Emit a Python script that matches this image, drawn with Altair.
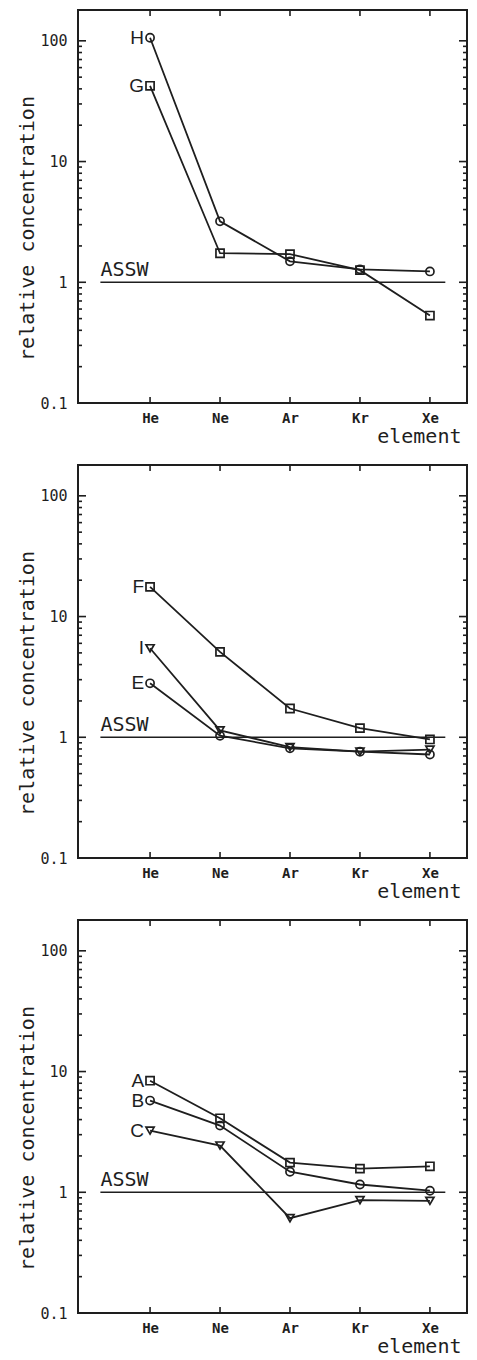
import json
import altair as alt
import pandas as pd

# ---------------- data ----------------
elements = ["He", "Ne", "Ar", "Kr", "Xe"]

# panel 1
series_H = [106, 3.2, 1.49, 1.28, 1.23]
series_G = [42.4, 1.74, 1.71, 1.26, 0.53]
# panel 2
series_F = [17.6, 5.1, 1.73, 1.19, 0.96]
series_I = [5.46, 1.14, 0.83, 0.76, 0.79]
series_E = [2.8, 1.03, 0.81, 0.76, 0.72]
# panel 3
series_A = [8.4, 4.1, 1.76, 1.57, 1.64]
series_B = [5.75, 3.57, 1.48, 1.16, 1.03]
series_C = [3.24, 2.44, 0.61, 0.86, 0.85]

assw_value = 1.0
assw_label = "ASSW"

y_major_ticks = [0.1, 1, 10, 100]
y_minor_ticks = [m * 10.0 ** e for e in (-1, 0, 1) for m in range(2, 10)]

# ---------------- styles ----------------
INK = "#1e1e1e"
MONO = "DejaVu Sans Mono"
SANS = "Liberation Sans"
W, H = 389, 393
X_DOMAIN = [-1.03, 4.53]
Y_DOMAIN = [0.1, 180]
ASSW_X0, ASSW_X1 = -0.71, 4.22

xscale = alt.Scale(domain=X_DOMAIN, nice=False, zero=False)
yscale = alt.Scale(type="log", domain=Y_DOMAIN, nice=False)

label_expr = json.dumps(elements) + "[datum.value]"

X_AXIS = alt.Axis(
    values=list(range(len(elements))),
    labelExpr=label_expr,
    ticks=False, domain=False, grid=False,
    labelPadding=8, labelFont=MONO, labelFontSize=14, labelFontWeight="bold",
    labelColor=INK, labelFlush=False,
    title="element", titleFont=MONO, titleFontSize=20, titleFontWeight="normal",
    titleColor=INK, titleX=W - 6, titleY=39, titleAlign="right",
    titleBaseline="alphabetic",
)
Y_AXIS = alt.Axis(
    values=y_major_ticks, format="~g",
    ticks=False, domain=False, grid=False,
    labelPadding=11, labelFont=MONO, labelFontSize=15, labelColor=INK,
    labelFlush=False, labelOverlap=False,
    title="relative concentration", titleFont=MONO, titleFontSize=20,
    titleFontWeight="normal", titleColor=INK, titleAngle=270,
    titleX=-45, titleY=218, titleAlign="center", titleBaseline="alphabetic",
)


def xe(field):
    return alt.X(field, scale=xscale, axis=X_AXIS, title="element")


def ye(field):
    return alt.Y(field, scale=yscale, axis=Y_AXIS, title="relative concentration")


def panel(series):
    names = [n for n, _, _ in series]
    shapes = [s for _, _, s in series]
    rows = []
    for name, vals, _ in series:
        for i, v in enumerate(vals):
            rows.append({"series": name, "idx": i, "element": elements[i], "value": v})
    df = pd.DataFrame(rows)

    base = alt.Chart(df)
    lines = base.mark_line(color=INK, strokeWidth=1.8).encode(
        x=xe("idx:Q"), y=ye("value:Q"), detail="series:N"
    )
    pts = base.mark_point(filled=False, color=INK, strokeWidth=1.7, size=66, opacity=1).encode(
        x=xe("idx:Q"), y=ye("value:Q"),
        shape=alt.Shape("series:N", scale=alt.Scale(domain=names, range=shapes), legend=None),
    )
    labels = alt.Chart(df[df["idx"] == 0]).mark_text(
        font=SANS, fontSize=19, align="right", baseline="middle", dx=-6, color=INK
    ).encode(x=xe("idx:Q"), y=ye("value:Q"), text="series:N")

    ref = pd.DataFrame({"x": [ASSW_X0], "x2": [ASSW_X1], "y": [assw_value], "label": [assw_label]})
    refline = alt.Chart(ref).mark_rule(color=INK, strokeWidth=1.6).encode(
        x=xe("x:Q"), x2="x2:Q", y=ye("y:Q")
    )
    reftext = alt.Chart(ref).mark_text(
        align="left", baseline="alphabetic", dy=-6, font=MONO, fontSize=20, color=INK
    ).encode(x=xe("x:Q"), y=ye("y:Q"), text="label:N")

    maj = pd.DataFrame({"v": y_major_ticks})
    mnr = pd.DataFrame({"v": y_minor_ticks})
    xt = pd.DataFrame({"idx": list(range(len(elements)))})
    tick_layers = [
        alt.Chart(maj).mark_rule(color=INK, strokeWidth=1.6).encode(y=ye("v:Q"), x=alt.value(0), x2=alt.value(8)),
        alt.Chart(mnr).mark_rule(color=INK, strokeWidth=1.6).encode(y=ye("v:Q"), x=alt.value(0), x2=alt.value(4)),
        alt.Chart(maj).mark_rule(color=INK, strokeWidth=1.6).encode(y=ye("v:Q"), x=alt.value(W), x2=alt.value(W - 8)),
        alt.Chart(mnr).mark_rule(color=INK, strokeWidth=1.6).encode(y=ye("v:Q"), x=alt.value(W), x2=alt.value(W - 4)),
        alt.Chart(xt).mark_rule(color=INK, strokeWidth=1.6).encode(x=xe("idx:Q"), y=alt.value(0), y2=alt.value(6)),
        alt.Chart(xt).mark_rule(color=INK, strokeWidth=1.6).encode(x=xe("idx:Q"), y=alt.value(H), y2=alt.value(H - 6)),
    ]

    return alt.layer(lines, *tick_layers, refline, reftext, pts, labels).properties(width=W, height=H)


p1 = panel([("H", series_H, "circle"), ("G", series_G, "square")])
p2 = panel([("F", series_F, "square"), ("I", series_I, "triangle-down"), ("E", series_E, "circle")])
p3 = panel([("A", series_A, "square"), ("B", series_B, "circle"), ("C", series_C, "triangle-down")])

chart = (
    alt.vconcat(p1, p2, p3, spacing=62, bounds="flush")
    .resolve_scale(shape="independent")
    .properties(padding={"left": 7, "top": 0, "right": 0, "bottom": 0}, background="white")
    .configure_view(stroke=INK, strokeWidth=2)
)

chart.save("out.html", embed_options={"renderer": "svg", "actions": False})
